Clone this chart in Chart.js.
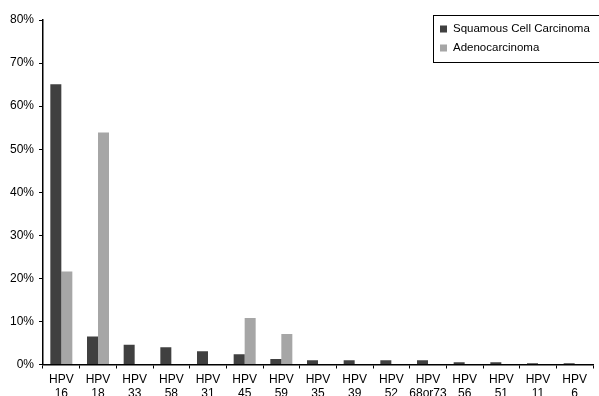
<!DOCTYPE html>
<html>
<head>
<meta charset="utf-8">
<script src="https://cdn.jsdelivr.net/npm/chart.js@4/dist/chart.umd.min.js"></script>
<style>
  html, body { margin: 0; padding: 0; background: #fff; overflow: hidden; }
  #wrap { position: relative; width: 599px; height: 410px; }
</style>
</head>
<body>
<div id="wrap"><canvas id="hpvChart"></canvas></div>
<script>
const types = [['HPV', '16'], ['HPV', '18'], ['HPV', '33'], ['HPV', '58'], ['HPV', '31'],
    ['HPV', '45'], ['HPV', '59'], ['HPV', '35'], ['HPV', '39'], ['HPV', '52'],
    ['HPV', '68or73'], ['HPV', '56'], ['HPV', '51'], ['HPV', '11'], ['HPV', '6']];
const squamous = [65.1, 6.5, 4.6, 4.0, 3.1, 2.4, 1.3, 1.0, 1.0, 1.0, 1.0, 0.55, 0.55, 0.3, 0.3];
const adeno = [21.6, 53.9, 0, 0, 0, 10.8, 7.1, 0, 0, 0, 0, 0, 0, 0, 0];
const yTicks = [0, 10, 20, 30, 40, 50, 60, 70, 80];

// legend drawn in a box, top right
const boxLegend = {
    id: 'boxLegend',
    afterDraw(chart) {
        const ctx = chart.ctx;
        ctx.save();
        ctx.strokeStyle = '#000';
        ctx.lineWidth = 1;
        ctx.strokeRect(433.5, 15.5, 170, 47);
        ctx.font = '11.5px "Liberation Sans", Arial, sans-serif';
        ctx.textBaseline = 'middle';
        chart.data.datasets.forEach((ds, i) => {
            const y = 29 + i * 19;
            ctx.fillStyle = ds.backgroundColor;
            ctx.fillRect(440, y - 3.5, 7, 7);
            ctx.fillStyle = '#000';
            ctx.fillText(ds.label, 453, y);
        });
        ctx.restore();
    }
};

const ctx = document.querySelector('#hpvChart').getContext('2d');
new Chart(ctx, {
    type: 'bar',
    data: {
        labels: types,
        datasets: [{
            label: 'Squamous Cell Carcinoma',
            data: squamous,
            backgroundColor: '#404040',
            categoryPercentage: 0.6,
            barPercentage: 1
        }, {
            label: 'Adenocarcinoma',
            data: adeno,
            backgroundColor: '#a6a6a6',
            categoryPercentage: 0.6,
            barPercentage: 1
        }]
    },
    options: {
        responsive: true,
        maintainAspectRatio: false,
        animation: false,
        layout: { padding: { top: 20, right: 6, left: 0, bottom: 0 } },
        plugins: {
            legend: { display: false },
            tooltip: { enabled: false }
        },
        scales: {
            x: {
                grid: { drawOnChartArea: false, tickLength: 4, color: '#000', offset: true },
                border: { color: '#000', width: 1.5 },
                ticks: {
                    color: '#000',
                    font: { family: '"Liberation Sans", Arial, sans-serif', size: 12 },
                    maxRotation: 0,
                    autoSkip: false,
                    padding: 4
                },
                afterFit(scale) { scale.height = 45.5; }
            },
            y: {
                min: 0,
                max: 80,
                afterBuildTicks(scale) { scale.ticks = yTicks.map(v => ({ value: v })); },
                grid: { drawOnChartArea: false, tickLength: 4, color: '#000' },
                border: { color: '#000', width: 1.5 },
                ticks: {
                    color: '#000',
                    font: { family: '"Liberation Sans", Arial, sans-serif', size: 12 },
                    padding: 5,
                    callback: v => v + '%'
                },
                afterFit(scale) { scale.width = 43; }
            }
        }
    },
    plugins: [boxLegend]
});
</script>
</body>
</html>
